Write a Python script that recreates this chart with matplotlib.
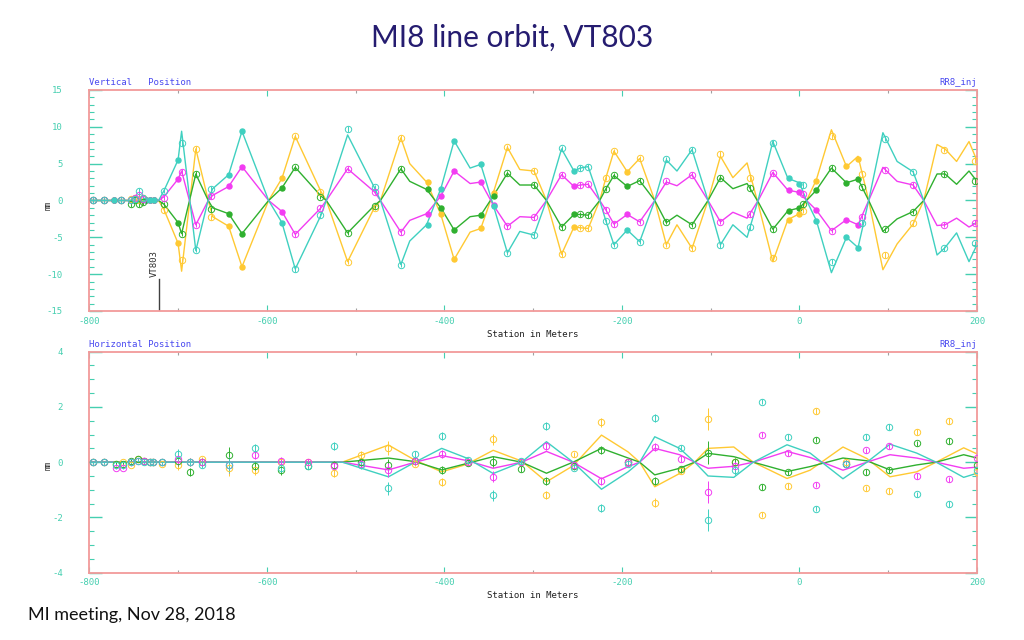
import numpy as np
import matplotlib.pyplot as plt

plt.rcParams['font.family'] = ['DejaVu Sans Mono']
plt.rcParams['axes.unicode_minus'] = False

# ---- Vertical position: fitted orbit curves (knots) ----
v_x = [-800, -722, -716, -700, -696, -680, -666, -661, -643, -628, -598, -583, -568,
       -539, -533, -509, -479, -472, -449, -439, -420, -404, -389, -371, -359, -345,
       -329, -315, -299, -285, -268, -254, -247, -238, -225, -218, -209, -194, -180,
       -163, -150, -138, -121, -103, -89, -75, -59, -46, -30, -13, 0, 8, 19, 36,
       53, 66, 78, 94, 110, 128, 140, 155, 164, 177, 191, 200]
v_cyan = [0, 0, 1.3, 5.5, 9.4, -6.8, 0.1, 1.6, 3.5, 9.4, 0, -3.0, -9.3,
          -2.0, 0, 8.9, 1.8, 0, -8.7, -5.5, -3.3, 1.6, 8.1, 4.4, 4.9, -0.6,
          -7.1, -4.2, -4.7, 0, 7.0, 4.0, 4.4, 4.6, 0, -2.8, -6.0, -4.0, -5.6,
          0, 5.5, 4.0, 6.9, 0, -6.0, -3.3, -5.0, 0.3, 8.0, 3.0, 2.4, 0, -2.7, -9.8,
          -5.0, -6.4, 0, 9.2, 5.3, 3.9, 0, -7.4, -6.4, -4.4, -8.3, -6.0]
v_magenta = [0, 0, 0.5, 2.9, 4.0, -3.3, 0, 0.7, 1.9, 4.6, 0, -1.5, -4.6,
             -1.0, 0, 4.3, 1.2, 0, -4.3, -2.7, -1.8, 0.6, 4.0, 2.3, 2.5, -0.6,
             -3.5, -2.2, -2.3, 0, 3.5, 1.9, 2.1, 2.2, 0, -1.3, -3.2, -1.9, -2.9,
             0, 2.5, 2.0, 3.5, 0, -2.9, -1.6, -2.4, 0.1, 3.8, 1.4, 1.1, 0, -1.3, -4.1,
             -2.6, -3.3, 0, 4.5, 2.6, 2.1, 0, -3.4, -3.3, -2.4, -3.6, -3.0]
v_green = [0, 0, -0.5, -3.0, -4.5, 3.6, 0, -1.0, -1.8, -4.5, 0, 1.7, 4.5,
           0.6, 0, -4.4, -0.7, 0, 4.3, 2.6, 1.5, -1.0, -4.0, -2.2, -2.0, 0.6,
           3.7, 2.1, 2.1, 0, -3.6, -1.9, -1.9, -2.0, 0, 1.6, 3.4, 1.9, 2.7,
           0, -3.0, -2.0, -3.3, 0, 3.1, 1.6, 2.3, -0.3, -3.9, -1.4, -1.0, 0, 1.4, 4.4,
           2.4, 2.9, 0, -4.2, -2.5, -1.5, 0, 3.6, 3.6, 2.2, 4.0, 2.6]
v_gold = [0, 0, -1.2, -5.8, -9.6, 7.0, 0, -2.2, -3.5, -9.0, 0, 3.0, 8.7,
          1.2, 0, -8.3, -1.0, 0, 8.5, 5.0, 2.5, -1.9, -8.0, -4.3, -3.8, 1.0,
          7.2, 4.2, 4.0, 0, -7.3, -3.6, -3.7, -3.8, 0, 3.1, 6.7, 3.9, 5.7,
          0, -6.0, -3.3, -6.5, 0, 6.0, 3.1, 5.1, -0.7, -8.3, -2.6, -1.8, 0, 2.8, 9.6,
          4.6, 6.0, 0, -9.4, -5.9, -3.2, 0, 7.6, 7.0, 5.3, 8.0, 5.4]

# ---- Vertical position: BPM readings ----
v_st = [-796, -783, -772, -764, -753, -748, -744, -740, -736, -732, -727, -716,
        -700, -696, -680, -663, -643, -628, -583, -568, -540, -509, -478, -449,
        -419, -404, -389, -359, -344, -329, -299, -268, -254, -247, -238, -218, -209, -194, -180,
        -150, -121, -89, -56, -30, -12, -1, 4, 19, 37, 52, 66, 71, 96, 128, 163, 198]
v_st_cyan = [0, 0, 0, 0, 0, 0.2, 1.3, 0.3, 0, 0, 0, 1.3,
             5.5, 7.8, -6.7, 1.6, 3.5, 9.4, -3.05, -9.3, -2.0, 9.7, 1.8, -8.7,
             -3.3, 1.6, 8.1, 4.9, -0.8, -7.1, -4.7, 7.1, 4.0, 4.4, 4.6, -2.8, -6.0, -4.0, -5.6,
             5.6, 6.9, -6.1, -3.6, 7.8, 3.0, 2.3, 2.1, -2.8, -8.3, -5.0, -6.4, -3.0, 8.4, 3.8, -6.5, -5.8]
v_st_magenta = [0, 0, 0, 0, 0, 0.3, 0.8, 0.2, 0, 0, 0, 0.4,
                2.9, 3.9, -3.3, 0.6, 1.9, 4.6, -1.5, -4.6, -1.0, 4.3, 1.2, -4.3,
                -1.8, 0.65, 4.0, 2.5, -0.6, -3.5, -2.3, 3.5, 1.9, 2.1, 2.2, -1.25, -3.2, -1.9, -2.9,
                2.6, 3.5, -2.9, -1.9, 3.7, 1.4, 1.1, 0.9, -1.3, -4.1, -2.6, -3.3, -2.2, 4.2, 2.1, -3.3, -3.0]
v_st_green = [0, 0, 0, 0, -0.5, 0, -0.5, -0.2, 0, 0, 0, -0.5,
              -3.0, -4.5, 3.6, -1.2, -1.8, -4.5, 1.7, 4.5, 0.5, -4.4, -0.7, 4.3,
              1.5, -1.0, -4.0, -2.0, 0.6, 3.7, 2.1, -3.6, -1.9, -1.9, -2.0, 1.6, 3.4, 1.9, 2.7,
              -2.9, -3.3, 3.1, 1.7, -3.9, -1.4, -1.0, -0.5, 1.4, 4.4, 2.4, 2.9, 1.8, -3.9, -1.5, 3.6, 2.6]
v_st_gold = [0, 0, 0, 0, 0.2, 0.3, 0, 0.3, 0, 0, 0, -1.3,
             -5.8, -8.1, 7.0, -2.3, -3.5, -9.0, 3.05, 8.7, 1.2, -8.3, -1.0, 8.5,
             2.5, -1.9, -8.0, -3.8, 1.0, 7.2, 4.0, -7.3, -3.6, -3.7, -3.8, 3.1, 6.7, 3.9, 5.7,
             -6.0, -6.5, 6.3, 3.0, -7.8, -2.6, -1.9, -1.4, 2.6, 8.7, 4.7, 5.6, 3.6, -7.4, -3.1, 6.9, 5.4]
v_filled = [0, 0, 1, 0, 0, 0, 0, 0, 1, 1, 1, 0,
            1, 0, 0, 0, 1, 1, 1, 0, 0, 0, 0, 0,
            1, 1, 1, 1, 1, 0, 0, 0, 1, 0, 0, 0, 0, 1, 0,
            0, 0, 0, 0, 0, 1, 1, 0, 1, 0, 1, 1, 0, 0, 0, 0, 0]

# ---- Horizontal position: fitted orbit curves ----
h_x = [-800, -515, -463, -433, -403, -375, -345, -313, -285, -255, -223, -193, -180,
       -163, -135, -118, -103, -74, -52, -14, 12, 49, 76, 102, 132, 154, 185, 200]
h_cyan = [0, 0, -0.53, 0, 0.50, 0.15, -0.41, 0, 0.74, 0, -0.98, -0.35, 0,
          0.92, 0.5, 0, -0.5, -0.55, 0, 0.63, 0.33, -0.6, 0, 0.65, 0.33, 0, -0.55, -0.4]
h_magenta = [0, 0, -0.28, 0, 0.24, 0.06, -0.22, 0, 0.39, 0, -0.6, -0.16, 0,
             0.5, 0.27, 0, -0.22, -0.15, 0, 0.39, 0.17, -0.29, 0, 0.27, 0.15, 0, -0.22, -0.18]
h_green = [0, 0, 0.15, 0.02, -0.28, -0.05, 0.2, 0, -0.4, 0, 0.5, 0.15, 0,
           -0.46, -0.22, 0, 0.32, 0.2, 0, -0.34, -0.16, 0.15, 0.05, -0.28, -0.1, 0, 0.27, 0.15]
h_gold = [0, 0, 0.62, 0.07, -0.35, -0.08, 0.43, 0.04, -0.71, -0.13, 0.98, 0.37, 0,
          -0.89, -0.41, 0, 0.5, 0.55, 0, -0.59, -0.29, 0.55, 0.13, -0.53, -0.35, 0, 0.52, 0.3]

# ---- Horizontal position: BPM readings ----
h_st = [-796, -783, -770, -762, -753, -745, -738, -732, -728, -718,
        -700, -687, -673, -643, -613, -584, -554, -524, -494, -463,
        -433, -403, -373, -345, -314, -285, -254, -223, -193, -163,
        -133, -103, -73, -42, -13, 19, 52, 75, 101, 132, 168, 200]
h_st_cyan = [0, 0, -0.1, -0.1, 0, 0.05, 0, 0, 0, 0,
             0.29, 0, -0.1, -0.1, 0.5, -0.2, -0.15, 0.59, -0.1, -0.95,
             0.29, 0.94, 0.08, -1.2, 0.05, 1.32, -0.2, -1.65, -0.05, 1.61,
             0.52, -2.08, -0.3, 2.19, 0.92, -1.68, -0.08, 0.92, 1.28, -1.17, -1.52, -0.3]
h_st_magenta = [0, 0, -0.2, -0.2, 0, 0.05, 0.05, 0, 0, 0,
                0.1, 0, 0, -0.1, 0.25, 0.05, 0, -0.15, -0.05, -0.28,
                0.05, 0.29, 0, -0.52, 0, 0.58, -0.1, -0.68, 0, 0.55,
                0.12, -1.07, -0.15, 1.0, 0.33, -0.81, -0.05, 0.43, 0.59, -0.5, -0.62, 0.15]
h_st_green = [0, 0, -0.05, -0.05, 0.05, 0.1, 0.05, 0, 0, 0,
              0.05, -0.35, 0, 0.25, -0.15, -0.3, -0.15, -0.1, 0, -0.12,
              0.05, -0.28, -0.03, 0.02, -0.24, -0.68, -0.14, 0.43, 0, -0.68,
              -0.24, 0.35, 0, -0.89, -0.37, 0.82, -0.08, -0.36, -0.29, 0.68, 0.76, -0.1]
h_st_gold = [0, 0, -0.05, 0, -0.1, 0.1, 0.05, 0, 0, -0.05,
             -0.1, 0, 0.1, -0.2, -0.3, 0, 0, -0.39, 0.25, 0.52,
             -0.05, -0.71, 0, 0.83, 0, -1.2, 0.28, 1.44, 0, -1.46,
             -0.31, 1.56, 0, -1.9, -0.86, 1.85, 0, -0.95, -1.05, 1.1, 1.49, -0.35]
h_err = [0.05] * 10 + [0.2, 0.15, 0.1, 0.3, 0.15, 0.15, 0.1, 0.15, 0.15, 0.25,
                       0.1, 0.15, 0.1, 0.2, 0.1, 0.15, 0.1, 0.15, 0.1, 0.15,
                       0.1, 0.4, 0.15, 0.1, 0.1, 0.1, 0.1, 0.1, 0.1, 0.1, 0.1, 0.1]

CYAN = '#3fd0c0'
MAGENTA = '#f23cf2'
GREEN = '#2fb02f'
GOLD = '#ffc933'
FRAME = '#f29a9a'
TICK = '#45cfb0'
LABEL_BLUE = '#4a4af0'

series_v = [(v_gold, v_st_gold, GOLD), (v_green, v_st_green, GREEN),
            (v_magenta, v_st_magenta, MAGENTA), (v_cyan, v_st_cyan, CYAN)]
series_h = [(h_gold, h_st_gold, GOLD), (h_green, h_st_green, GREEN),
            (h_magenta, h_st_magenta, MAGENTA), (h_cyan, h_st_cyan, CYAN)]


def style_axis(ax, ylim, ymaj, ymin, title):
    ax.set_xlim(-800, 200)
    ax.set_ylim(*ylim)
    for s in ax.spines.values():
        s.set_color(FRAME)
        s.set_linewidth(1.3)
    ax.set_xticks(range(-800, 201, 200))
    ax.set_xticks(range(-800, 201, 100), minor=True)
    ax.set_yticks(np.arange(ylim[0], ylim[1] + 0.01, ymaj))
    ax.set_yticks(np.arange(ylim[0], ylim[1] + 0.01, ymin), minor=True)
    ax.tick_params(axis='y', which='major', direction='in', length=9, width=1,
                   left=True, right=True, colors=TICK, pad=19, labelsize=6.5)
    ax.tick_params(axis='y', which='minor', direction='in', length=3.5, width=0.8,
                   left=True, right=True, colors=TICK)
    ax.tick_params(axis='x', which='major', direction='in', length=4, width=0.8,
                   top=True, bottom=True, colors=TICK, pad=4, labelsize=6.5)
    ax.tick_params(axis='x', which='minor', direction='in', length=2.5, width=0.8,
                   top=True, bottom=True, colors='#a0a0a0')
    ax.set_xlabel('Station in Meters', fontsize=6.5, color='#202020', labelpad=3)
    ax.text(0, 1.012, title, transform=ax.transAxes, fontsize=6.5,
            color=LABEL_BLUE, ha='left', va='bottom')
    ax.text(1, 1.012, 'RR8_inj', transform=ax.transAxes, fontsize=6.5,
            color=LABEL_BLUE, ha='right', va='bottom')


fig = plt.figure(figsize=(10.24, 6.4), dpi=100)
ax1 = fig.add_axes([0.0872, 0.5141, 0.8669, 0.3453])
ax2 = fig.add_axes([0.0872, 0.1052, 0.8669, 0.3453])

# top panel
for curve, pts, col in series_v:
    ax1.plot(v_x, curve, color=col, lw=1.0, zorder=2)
for curve, pts, col in series_v:
    x = np.array(v_st)
    y = np.array(pts)
    f = np.array(v_filled) == 1
    ax1.errorbar(x[~f], y[~f], yerr=0.35, fmt='o', ms=4.6, mfc='none', mec=col,
                 mew=0.7, ecolor=col, elinewidth=0.7, capsize=0, zorder=3)
    ax1.plot(x[f], y[f], 'o', ms=3.6, color=col, zorder=3)

ax1.plot([-721, -721], [-15, -10.7], color='#404040', lw=1)
ax1.text(-727, -10.4, 'VT803', rotation=90, fontsize=6.5, color='#303030',
         ha='center', va='bottom')
style_axis(ax1, (-15, 15), 5, 1, 'Vertical   Position')

# bottom panel
for curve, pts, col in series_h:
    ax2.plot(h_x, curve, color=col, lw=1.0, zorder=2)
for curve, pts, col in series_h:
    ax2.errorbar(h_st, pts, yerr=h_err, fmt='o', ms=4.6, mfc='none', mec=col,
                 mew=0.7, ecolor=col, elinewidth=0.7, capsize=0, zorder=3)
style_axis(ax2, (-4, 4), 2, 0.5, 'Horizontal Position')

fig.text(48 / 1024, 1 - 205 / 640, 'mm', rotation=90, fontsize=5.5,
         ha='center', va='center', color='#202020')
fig.text(48 / 1024, 1 - 465 / 640, 'mm', rotation=90, fontsize=5.5,
         ha='center', va='center', color='#202020')

fig.text(0.5, 1 - 38 / 640, 'MI8 line orbit, VT803', ha='center', va='center',
         fontsize=21.5, color='#251c70', family='Lato')
fig.text(28 / 1024, 1 - 615 / 640, 'MI meeting, Nov 28, 2018', ha='left',
         va='center', fontsize=13, color='#111111', family='Lato')

fig.savefig('out.png', dpi=100)
